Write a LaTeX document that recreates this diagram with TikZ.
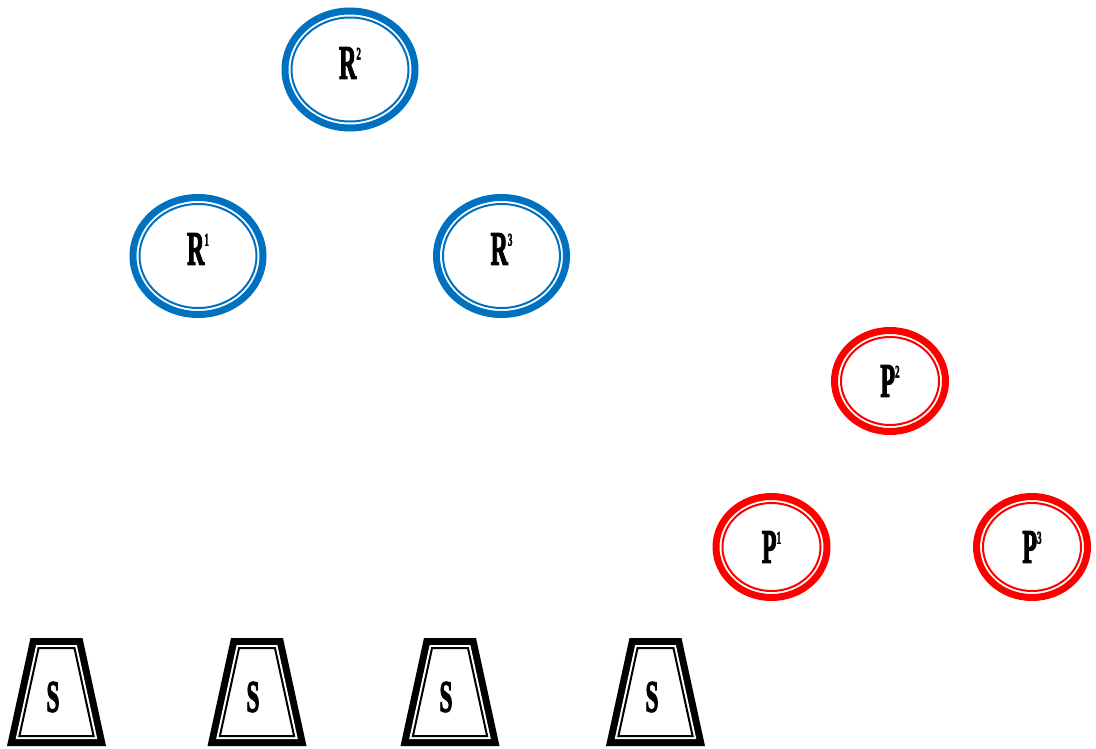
\documentclass[tikz,border=0pt]{standalone}
\usepackage{fontspec}
\newfontfamily\labfont{Liberation Serif}[BoldFont={Liberation Serif Bold}, BoldFeatures={FakeBold=3}]
\definecolor{rblue}{HTML}{0070C0}
\definecolor{pred}{HTML}{FF0000}
\newcommand\lettersup[2]{\scalebox{0.5}[1]{\fontsize{48}{48}\selectfont #1\raisebox{19pt}{\fontsize{18}{18}\selectfont #2}}}
\newcommand\bigletter[1]{\scalebox{0.52}[1]{\fontsize{45}{45}\selectfont #1}}
\newcommand\trapbody[1]{%
  \fill[black] (#1-26,638) -- (#1+26,638) -- (#1+49.5,746) -- (#1-49.5,746) -- cycle;
  \fill[white] (#1-20.36,645) -- (#1+20.36,645) -- (#1+40.81,739) -- (#1-40.81,739) -- cycle;
  \draw[trapin] (#1-17.94,648) -- (#1+17.94,648) -- (#1+37.09,736) -- (#1-37.09,736) -- cycle;}
\tikzset{
  ringout/.style={line width=7pt},
  ringin/.style={line width=2pt},
  trapin/.style={line width=2pt, black, line join=miter},
  lab/.style={inner sep=0pt, font=\labfont\bfseries, text=black}
}
\begin{document}
\begin{tikzpicture}[x=1pt,y=-1pt]
\useasboundingbox (0,0) rectangle (1096,749);
% ellipse centres
\coordinate (r2c) at (350,69.5);
\coordinate (r1c) at (198,256);
\coordinate (r3c) at (501.5,256);
\coordinate (p2c) at (890,381);
\coordinate (p1c) at (771.5,547);
\coordinate (p3c) at (1032,547);
% R rings (blue)
\foreach \c in {r1c,r2c,r3c}{
  \draw[ringout,rblue] (\c) ellipse [x radius=65pt, y radius=58.5pt];
  \draw[ringin,rblue] (\c) ellipse [x radius=58.5pt, y radius=52pt];
}
% P rings (red)
\foreach \c in {p1c,p2c,p3c}{
  \draw[ringout,pred] (\c) ellipse [x radius=55.5pt, y radius=50.5pt];
  \draw[ringin,pred] (\c) ellipse [x radius=49pt, y radius=44pt];
}
\node[lab] (r2) at ([yshift=6.5pt]r2c) {\lettersup{R}{2}};
\node[lab] (r1) at ([yshift=7pt]r1c) {\lettersup{R}{1}};
\node[lab] (r3) at ([yshift=7pt]r3c) {\lettersup{R}{3}};
\node[lab] (p2) at (p2c) {\lettersup{P}{2}};
\node[lab] (p1) at (p1c) {\lettersup{P}{1}};
\node[lab] (p3) at (p3c) {\lettersup{P}{3}};
% S trapezoids
\trapbody{56.5}
\trapbody{257}
\trapbody{450}
\trapbody{655.5}
\node[lab] (s1) at (53,697) {\bigletter{S}};
\node[lab] (s2) at (253,697) {\bigletter{S}};
\node[lab] (s3) at (446,697) {\bigletter{S}};
\node[lab] (s4) at (652,697) {\bigletter{S}};
\end{tikzpicture}
\end{document}
